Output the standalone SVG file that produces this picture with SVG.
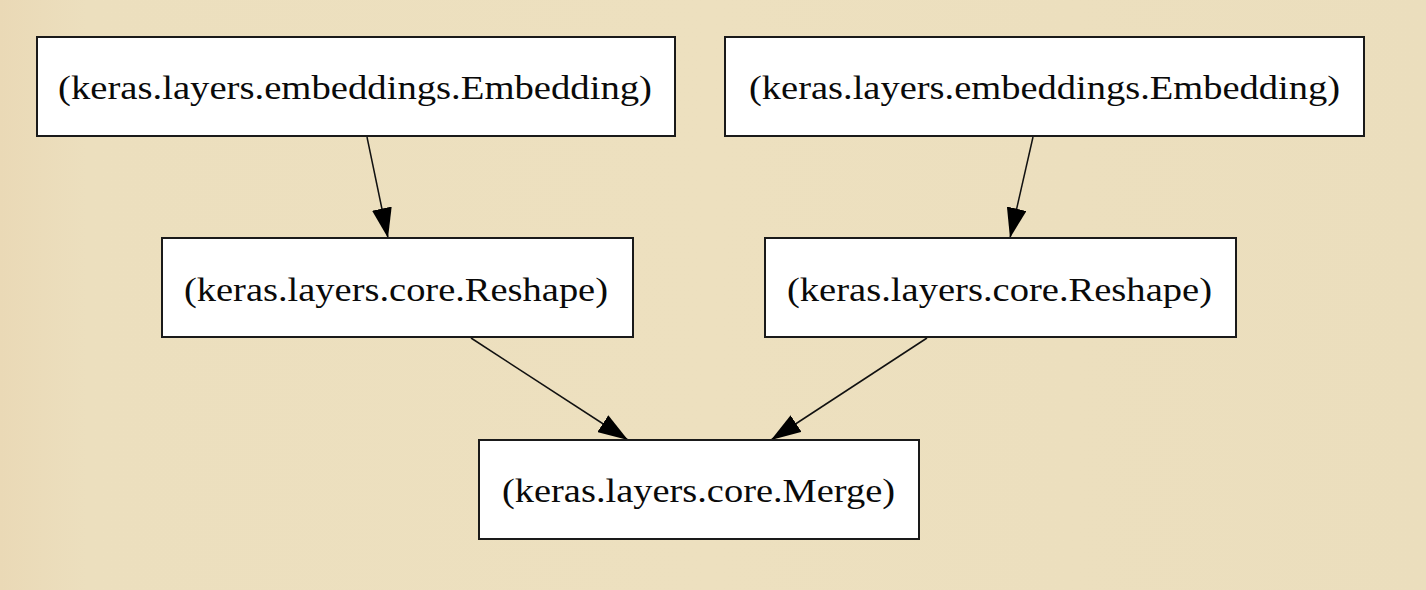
<svg xmlns="http://www.w3.org/2000/svg" width="1426" height="590" viewBox="0 0 1426 590">
  <style>
    .node rect { fill: #ffffff; stroke: #1a1a1a; stroke-width: 2; }
    .node text { font-family: "Liberation Serif", "Times New Roman", serif; font-size: 34px; fill: #0a0a0a; text-anchor: middle; }
    .edge { stroke: #111111; stroke-width: 1.5; fill: none; marker-end: url(#arrow); }
  </style>
  <defs>
    <marker id="arrow" viewBox="0 0 30 20" refX="30" refY="10" markerWidth="30" markerHeight="20" markerUnits="userSpaceOnUse" orient="auto">
      <path d="M0,0 L30,10 L0,20 z" fill="#000000"/>
    </marker>
    <linearGradient id="bg" x1="0" y1="0" x2="1" y2="0">
      <stop offset="0" stop-color="#ead9b6"/>
      <stop offset="0.06" stop-color="#ecdfbe"/>
      <stop offset="0.5" stop-color="#ede0bf"/>
      <stop offset="1" stop-color="#ebdebd"/>
    </linearGradient>
  </defs>
  <rect x="0" y="0" width="1426" height="590" fill="url(#bg)"/>

  <g id="connectors">
    <path class="edge" d="M367,137 L388,238"/>
    <path class="edge" d="M1033,137 L1010,238"/>
    <path class="edge" d="M471,338 L628,440"/>
    <path class="edge" d="M927,338 L771,440"/>
  </g>

  <g id="embedding1" class="node">
    <rect x="37" y="37" width="638" height="99"/>
    <text x="355" y="99" textLength="594" lengthAdjust="spacingAndGlyphs">(keras.layers.embeddings.Embedding)</text>
  </g>
  <g id="embedding2" class="node">
    <rect x="725" y="37" width="639" height="99"/>
    <text x="1044.5" y="99" textLength="591" lengthAdjust="spacingAndGlyphs">(keras.layers.embeddings.Embedding)</text>
  </g>
  <g id="reshape1" class="node">
    <rect x="162" y="238" width="471" height="99"/>
    <text x="396" y="301" textLength="424" lengthAdjust="spacingAndGlyphs">(keras.layers.core.Reshape)</text>
  </g>
  <g id="reshape2" class="node">
    <rect x="765" y="238" width="471" height="99"/>
    <text x="999.5" y="301" textLength="425" lengthAdjust="spacingAndGlyphs">(keras.layers.core.Reshape)</text>
  </g>
  <g id="merge" class="node">
    <rect x="479" y="440" width="440" height="99"/>
    <text x="698.5" y="502" textLength="393" lengthAdjust="spacingAndGlyphs">(keras.layers.core.Merge)</text>
  </g>
</svg>
